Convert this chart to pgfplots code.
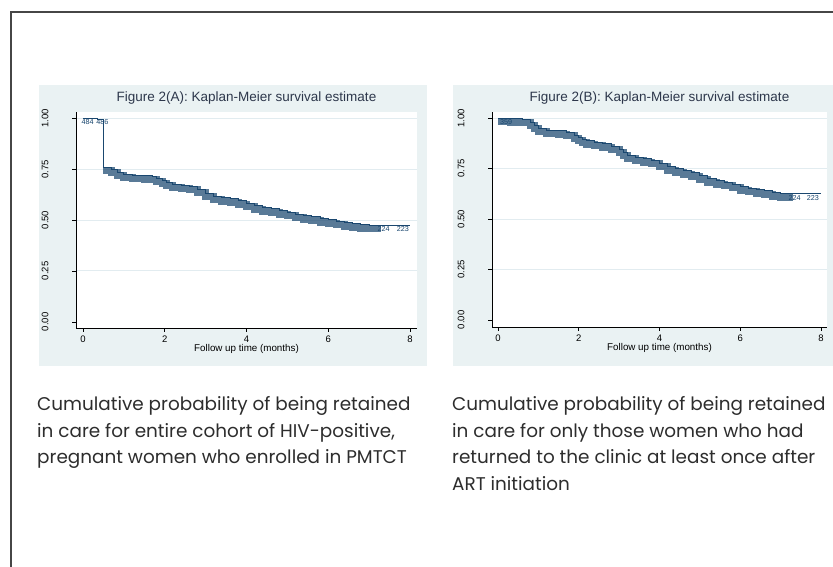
\documentclass[border=0pt]{standalone}
\usepackage{pgfplots}
\pgfplotsset{compat=1.18}
\usepackage{pgfplotstable}
\usepackage{fontspec}
\setmainfont{Liberation Sans}
\newfontfamily\capfont{Poppins}
\definecolor{panelbg}{RGB}{234,242,243}
\definecolor{statanavy}{RGB}{26,71,111}
\definecolor{gridc}{RGB}{226,236,240}
\definecolor{titlec}{RGB}{45,55,75}
\definecolor{capc}{RGB}{45,45,45}
\definecolor{framec}{RGB}{70,70,70}

\pgfplotstableread{
t S
0.00 1.000
0.20 0.996
0.35 0.992
0.50 0.760
0.70 0.748
0.85 0.735
1.00 0.725
1.20 0.720
1.50 0.718
1.70 0.714
1.80 0.705
1.95 0.695
2.05 0.685
2.20 0.676
2.40 0.670
2.60 0.665
2.80 0.650
3.00 0.632
3.20 0.617
3.40 0.610
3.60 0.604
3.80 0.594
4.00 0.582
4.20 0.569
4.40 0.561
4.60 0.554
4.80 0.546
5.00 0.538
5.20 0.529
5.40 0.522
5.60 0.515
5.80 0.507
6.00 0.500
6.20 0.493
6.40 0.487
6.60 0.481
6.80 0.477
7.00 0.475
7.30 0.475
8.00 0.475
}\kmA

\pgfplotstableread{
t S
0.00 1.000
0.30 0.997
0.60 0.993
0.80 0.980
0.90 0.965
1.00 0.950
1.20 0.940
1.50 0.937
1.70 0.930
1.90 0.915
2.00 0.905
2.10 0.895
2.20 0.888
2.40 0.880
2.60 0.873
2.80 0.860
3.00 0.845
3.10 0.830
3.20 0.815
3.40 0.805
3.60 0.798
3.80 0.790
4.00 0.777
4.20 0.760
4.40 0.750
4.60 0.740
4.80 0.730
5.00 0.715
5.20 0.700
5.40 0.690
5.60 0.682
5.80 0.672
6.00 0.660
6.20 0.653
6.40 0.646
6.60 0.639
6.80 0.630
7.00 0.624
7.30 0.624
8.00 0.624
}\kmB

\pgfplotstableread{
t S lab
-0.06 1.000 484
0.30 1.000 486
7.18 0.475 224
7.65 0.475 223
}\labA

\pgfplotstableread{
t S lab
0.02 1.000 359
7.17 0.624 224
7.62 0.624 223
}\labB

\pgfplotsset{kmaxis/.style={
  scale only axis, anchor=south west,
  axis x line*=bottom, axis y line*=left,
  axis line style={black, line width=0.6pt, -},
  axis background/.style={fill=white},
  xtick={0,2,4,6,8}, xticklabels={0,2,4,6,8},
  ytick={0.25,0.5,0.75,1}, yticklabels={0.25,0.50,0.75,1.00},
  extra y ticks={0}, extra y tick labels={0.00},
  extra y tick style={grid=none},
  ymajorgrids, grid style={gridc, line width=0.9pt},
  tick align=outside, major tick length=4pt,
  tick style={black, line width=0.6pt},
  yticklabel style={rotate=90, anchor=south, font=\fontsize{9.5}{10}\selectfont},
  yticklabel shift=20pt,
  xticklabel shift=2.5pt,
  xticklabel style={font=\fontsize{9.5}{10}\selectfont, inner sep=1pt},
  title style={font=\fontsize{13.5}{14}\selectfont, text=titlec, at={(0.5,1)}, anchor=base, yshift=4pt},
  xlabel style={font=\fontsize{9.8}{10}\selectfont, at={(axis description cs:0.5,0)}, anchor=base, yshift=-24pt},
  xlabel={Follow up time (months)},
  clip=false,
}}

\begin{document}
\begin{tikzpicture}
\path[use as bounding box] (0pt,0pt) rectangle (833pt,567pt);
\fill[white] (0pt,0pt) rectangle (833pt,567pt);
\draw[framec, line width=1.6pt] (11pt,-10pt) -- (11pt,555pt) -- (850pt,555pt);
\fill[panelbg] (39pt,201pt) rectangle (427pt,482pt);
\fill[panelbg] (453pt,201pt) rectangle (845pt,482pt);

\begin{axis}[kmaxis, at={(76pt,239pt)}, width=341pt, height=216pt,
  xmin=-0.17, xmax=8.17, ymin=-0.03, ymax=1.03,
  title={Figure 2(A): Kaplan-Meier survival estimate}]
\addplot[const plot, statanavy, opacity=0.72, line width=7pt, yshift=-3.5pt,
  restrict x to domain=0.5:7.3] table[x=t, y=S] {\kmA};
\addplot[const plot, statanavy, line width=1pt] table[x=t, y=S] {\kmA};
\addplot[draw=none, mark=none, nodes near coords, point meta=explicit symbolic,
  every node near coord/.style={anchor=north west, inner sep=1pt, font=\fontsize{7.2}{7}\selectfont, text=statanavy}]
  table[x=t, y=S, meta=lab] {\labA};
\end{axis}

\begin{axis}[kmaxis, at={(492pt,240pt)}, width=335pt, height=215pt,
  xmin=-0.15, xmax=8.15, ymin=-0.035, ymax=1.03,
  title={Figure 2(B): Kaplan-Meier survival estimate}]
\addplot[const plot, statanavy, opacity=0.72, line width=7pt, yshift=-3.5pt,
  restrict x to domain=0:7.3] table[x=t, y=S] {\kmB};
\addplot[const plot, statanavy, line width=1pt] table[x=t, y=S] {\kmB};
\addplot[draw=none, mark=none, nodes near coords, point meta=explicit symbolic,
  every node near coord/.style={anchor=north west, inner sep=1pt, font=\fontsize{7.2}{7}\selectfont, text=statanavy}]
  table[x=t, y=S, meta=lab] {\labB};
\end{axis}

\begin{scope}[every node/.style={anchor=base west, inner sep=0pt, text=capc, font=\capfont\fontsize{18.4}{19}\selectfont}]
\node at (37pt,156pt) {Cumulative probability of being retained};
\node at (37pt,129pt) {in care for entire cohort of HIV-positive,};
\node at (37pt,103pt) {pregnant women who enrolled in PMTCT};
\node at (452pt,156pt) {Cumulative probability of being retained};
\node at (452pt,129pt) {in care for only those women who had};
\node at (452pt,103pt) {returned to the clinic at least once after};
\node at (452pt,76pt) {ART initiation};
\end{scope}
\end{tikzpicture}
\end{document}
